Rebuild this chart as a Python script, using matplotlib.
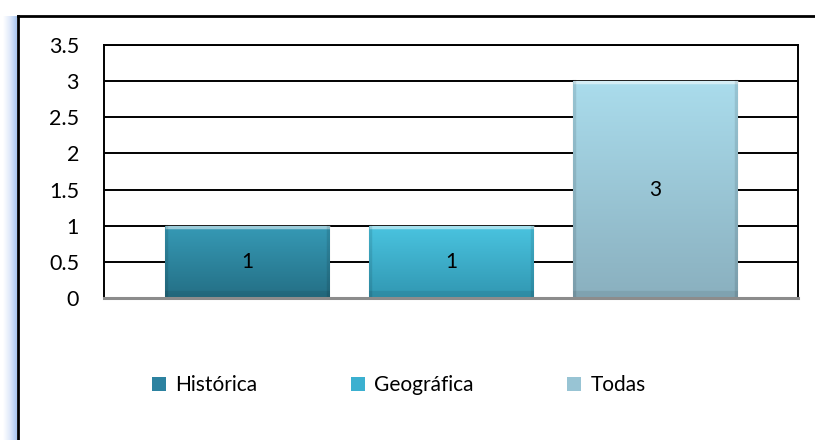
import matplotlib.pyplot as plt
import numpy as np
from matplotlib.colors import LinearSegmentedColormap
from matplotlib.lines import Line2D

# Data
series = ['Histórica', 'Geográfica', 'Todas']
values = [1, 1, 3]
yticks = [0, 0.5, 1, 1.5, 2, 2.5, 3, 3.5]

# Colours (top / bottom of the gradient on each bar)
top_colors = ['#369AB6', '#4AC4E0', '#AADCEC']
bottom_colors = ['#246F85', '#3197B2', '#8AB0BF']
mid_colors = ['#2C82A0', '#3BB0D0', '#98C4D4']

plt.rcParams['font.family'] = ['Lato', 'DejaVu Sans']

W, H = 815, 440
fig = plt.figure(figsize=(W / 100, H / 100), dpi=100)
ax = fig.add_axes([104 / W, 1 - 298 / H, 694 / W, 253 / H])

# one category, three clustered series
width = 165 / 694
step = 204 / 694
xs = [-step, 0, step]

for i in range(len(series)):
    bars = ax.bar(xs[i], values[i], width, color=mid_colors[i],
                  label=series[i], zorder=3, linewidth=0)
    patch = bars.patches[0]
    # vertical gradient clipped to the bar
    cmap = LinearSegmentedColormap.from_list('g', [bottom_colors[i], top_colors[i]])
    grad = np.linspace(0, 1, 100).reshape(-1, 1)
    im = ax.imshow(grad, cmap=cmap, origin='lower', aspect='auto',
                   extent=[xs[i] - width / 2, xs[i] + width / 2, 0, values[i]],
                   zorder=4)
    im.set_clip_path(patch)
    # bevel: light top edge, soft darker sides and bottom
    x0, x1 = xs[i] - width / 2, xs[i] + width / 2
    ax.plot([x0, x1], [values[i] - 0.015] * 2, color='white', alpha=0.5,
            lw=2.5, zorder=5, solid_capstyle='butt')
    ax.plot([x0, x1], [0.04] * 2, color='black', alpha=0.08, lw=6,
            zorder=5, solid_capstyle='butt')
    for xe in (x0 + 0.002, x1 - 0.002):
        ax.plot([xe, xe], [0, values[i]], color='black', alpha=0.1, lw=2.5,
                zorder=5)
    ax.text(xs[i], values[i] / 2, f'{values[i]}', ha='center', va='center',
            fontsize=15, color='black', zorder=6)

ax.set_xlim(-0.5, 0.5)
ax.set_ylim(0, 3.5)
ax.set_yticks(yticks, labels=[f'{t:g}' for t in yticks])
ax.set_xticks([])
ax.tick_params(axis='y', length=0, pad=18, labelsize=15.5)
ax.yaxis.grid(True, color='black', lw=1.4)
ax.set_axisbelow(True)

for s in ['top', 'right', 'left']:
    ax.spines[s].set_color('black')
    ax.spines[s].set_linewidth(1.4)
ax.spines['bottom'].set_color('#8c8c8c')
ax.spines['bottom'].set_linewidth(2.2)
ax.spines['bottom'].set_zorder(6)

leg = ax.legend(loc='center', bbox_to_anchor=(399 / W, 1 - 385 / H),
                bbox_transform=fig.transFigure, ncol=3, frameon=False,
                fontsize=15, handlelength=0.65, handleheight=0.65,
                handletextpad=0.45, columnspacing=4.5)

# outer chart frame
fig.add_artist(Line2D([18 / W, 1], [1 - 16 / H] * 2, color='black', lw=2))
fig.add_artist(Line2D([18 / W] * 2, [0, 1 - 16 / H], color='black', lw=2))

# blue strip on the left edge
strip = fig.add_axes([3 / W, 0, 14 / W, 1 - 16 / H])
strip_cmap = LinearSegmentedColormap.from_list('s', ['#ffffff', '#dfe9fa', '#a9c6f0'])
strip.imshow(np.linspace(0, 1, 50).reshape(1, -1), cmap=strip_cmap, aspect='auto')
strip.axis('off')

fig.savefig('out.png', dpi=100)
